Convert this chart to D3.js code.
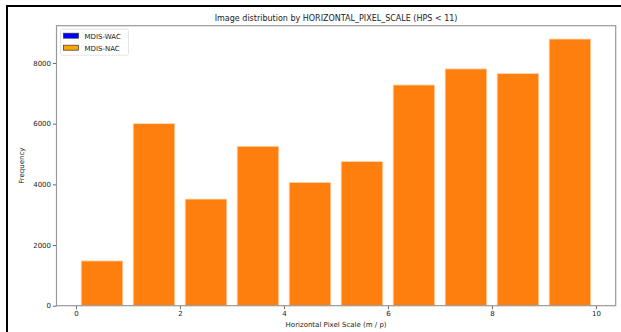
<!DOCTYPE html>
<html>
<head>
<meta charset="utf-8" />
<title>Image distribution by HORIZONTAL_PIXEL_SCALE</title>
<style>
    body { margin: 0; background: #fff; }
    svg { display: block; font-family: "DejaVu Sans", sans-serif; }
</style>
</head>
<body>
<div id="chart"></div>
<script src="https://cdn.jsdelivr.net/npm/d3@7"></script>
<script>
    // data
    var binStarts = [0, 1, 2, 3, 4, 5, 6, 7, 8, 9];
    var wacCounts = [0, 0, 0, 0, 0, 0, 0, 0, 0, 0];
    var nacCounts = [1475, 6000, 3515, 5255, 4065, 4750, 7275, 7805, 7650, 8790];
    var xTicks = [0, 2, 4, 6, 8, 10];
    var yTicks = [0, 2000, 4000, 6000, 8000];
    var seriesNames = ["MDIS-WAC", "MDIS-NAC"];

    var W = 621, H = 332;
    var margin = { left: 56.5, right: 5.3, top: 25.7, bottom: 26.3 };
    var iw = W - margin.left - margin.right;
    var ih = H - margin.top - margin.bottom;

    var svg = d3.select("#chart").append("svg")
        .attr("width", W)
        .attr("height", H);

    // black frame on left and top (cropped screenshot look)
    svg.append("line").attr("x1", 7).attr("x2", 7).attr("y1", 5).attr("y2", H)
        .attr("stroke", "#000").attr("stroke-width", 2);
    svg.append("line").attr("x1", 6).attr("x2", W).attr("y1", 6).attr("y2", 6)
        .attr("stroke", "#000").attr("stroke-width", 2);

    var x = d3.scaleLinear().domain([-0.375, 10.38]).range([0, iw]);
    var yMax = d3.max(nacCounts) * 1.05;
    var y = d3.scaleLinear().domain([0, yMax]).range([ih, 0]);

    var g = svg.append("g").attr("transform", "translate(" + margin.left + "," + margin.top + ")");

    // WAC bars (all zero, drawn under)
    g.selectAll("rect.wac")
        .data(wacCounts)
        .enter().append("rect")
        .attr("class", "wac")
        .attr("x", function(d, i) { return x(binStarts[i] + 0.1); })
        .attr("width", function(d, i) { return x(binStarts[i] + 0.9) - x(binStarts[i] + 0.1); })
        .attr("y", function(d) { return y(d); })
        .attr("height", function(d) { return ih - y(d); })
        .attr("fill", "#1f77b4");

    g.selectAll("rect.nac")
        .data(nacCounts)
        .enter().append("rect")
        .attr("class", "nac")
        .attr("x", function(d, i) { return x(binStarts[i] + 0.1); })
        .attr("width", function(d, i) { return x(binStarts[i] + 0.9) - x(binStarts[i] + 0.1); })
        .attr("y", function(d) { return y(d); })
        .attr("height", function(d) { return ih - y(d); })
        .attr("fill", "#ff7f0e")
        .attr("stroke", "#ffd6b0")
        .attr("stroke-width", 0.8);

    // axes
    var xAxis = g.append("g")
        .attr("transform", "translate(0," + ih + ")")
        .call(d3.axisBottom(x).tickValues(xTicks).tickSize(3.5).tickPadding(2));
    var yAxis = g.append("g")
        .call(d3.axisLeft(y).tickValues(yTicks).tickSize(3.5).tickPadding(2).tickFormat(d3.format("d")));

    [xAxis, yAxis].forEach(function(a) {
        a.select(".domain").remove();
        a.selectAll("line").attr("stroke", "#444").attr("stroke-width", 0.8);
        a.selectAll("text").attr("font-size", 7).attr("fill", "#222")
            .attr("font-family", "DejaVu Sans, sans-serif");
    });

    // spines
    g.append("rect")
        .attr("x", 0).attr("y", 0).attr("width", iw).attr("height", ih)
        .attr("fill", "none").attr("stroke", "#9a9a9a").attr("stroke-width", 1.2);

    // title and labels
    svg.append("text")
        .attr("x", margin.left + iw / 2).attr("y", 21)
        .attr("text-anchor", "middle").attr("font-size", 8).attr("fill", "#222")
        .text("Image distribution by HORIZONTAL_PIXEL_SCALE (HPS < 11)");

    svg.append("text")
        .attr("x", margin.left + iw / 2).attr("y", 327)
        .attr("text-anchor", "middle").attr("font-size", 7).attr("fill", "#222")
        .text("Horizontal Pixel Scale (m / p)");

    svg.append("text")
        .attr("transform", "translate(24," + (margin.top + ih / 2) + ") rotate(-90)")
        .attr("text-anchor", "middle").attr("font-size", 7).attr("fill", "#222")
        .text("Frequency");

    // legend
    var legend = g.append("g").attr("transform", "translate(4,3.5)");
    legend.append("rect")
        .attr("width", 68).attr("height", 26).attr("rx", 2)
        .attr("fill", "#fff").attr("fill-opacity", 0.8)
        .attr("stroke", "#ddd").attr("stroke-width", 0.8);
    var legendColors = ["#0000ff", "#ffa500"];
    seriesNames.forEach(function(name, i) {
        var row = legend.append("g").attr("transform", "translate(3," + (4 + i * 12) + ")");
        row.append("rect")
            .attr("width", 15).attr("height", 5)
            .attr("fill", legendColors[i]).attr("stroke", "#333").attr("stroke-width", 0.7);
        row.append("text")
            .attr("x", 21).attr("y", 5.5)
            .attr("font-size", 7).attr("fill", "#222")
            .text(name);
    });
</script>
</body>
</html>
